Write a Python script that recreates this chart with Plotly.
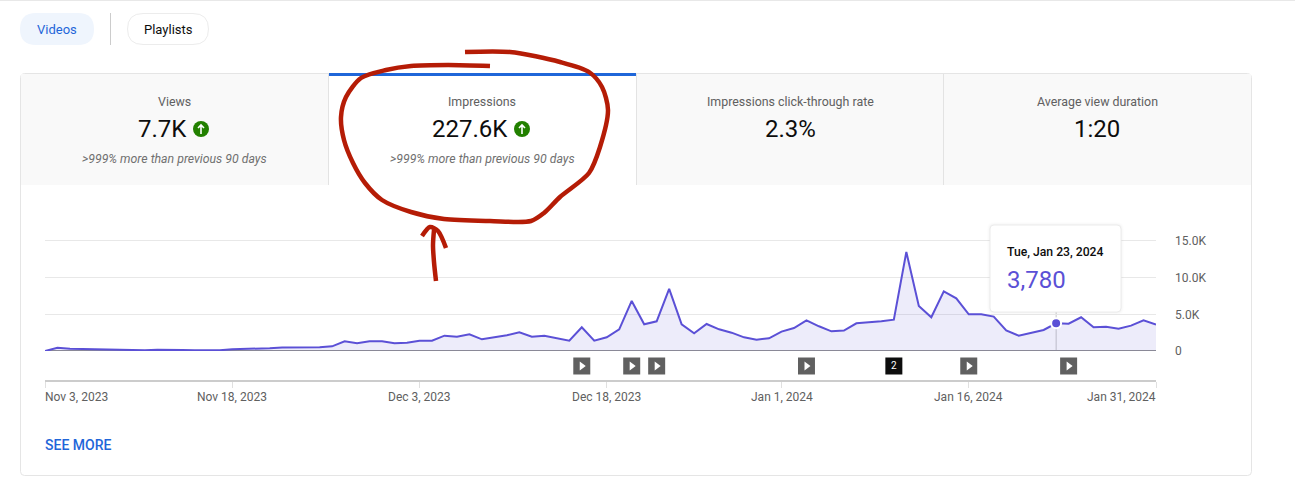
import pandas as pd
import plotly.graph_objects as go

W, H = 1295, 492

# chart data
start_date = '2023-11-03'
impressions = [
    0, 450, 320, 270, 280, 150, 100, 90, 100, 180,
    210, 140, 100, 90, 110, 230, 260, 350, 380, 480,
    500, 480, 520, 640, 1320, 1050, 1320, 1320, 1050, 1140,
    1410, 1410, 2090, 1950, 2270, 1590, 1865, 2140, 2550, 1950,
    2090, 1730, 1410, 3230, 1410, 1865, 2960, 6825, 3640, 4050,
    8460, 3640, 2410, 3685, 2960, 2500, 1865, 1550, 1730, 2640,
    3140, 4190, 3370, 2680, 2780, 3780, 3910, 4050, 4280, 13500,
    6140, 4600, 8140, 7190, 5000, 5000, 4690, 2820, 2090, 2460,
    2870, 3780, 3730, 4600, 3230, 3320, 3050, 3460, 4190, 3600,
]
dates = pd.date_range(start_date, periods=len(impressions), freq='D')

y_ticks = [0, 5000, 10000, 15000]
y_labels = ['0', '5.0K', '10.0K', '15.0K']
x_ticks = ['2023-11-03', '2023-11-18', '2023-12-03', '2023-12-18', '2024-01-01', '2024-01-16', '2024-01-31']
x_labels = ['Nov 3, 2023', 'Nov 18, 2023', 'Dec 3, 2023', 'Dec 18, 2023', 'Jan 1, 2024', 'Jan 16, 2024', 'Jan 31, 2024']

video_dates = ['2023-12-16', '2023-12-20', '2023-12-22', '2024-01-03', '2024-01-16', '2024-01-24']
multi_video_dates = ['2024-01-10']
multi_video_labels = ['2']

hover_date = '2024-01-23'
hover_value = 3780

tab_titles = ['Views', 'Impressions', 'Impressions click-through rate', 'Average view duration']
tab_values = ['7.7K', '227.6K', '2.3%', '1:20']
tab_notes = ['>999% more than previous 90 days', '>999% more than previous 90 days', '', '']

BLUE = '#1f66d9'
PURPLE = '#5b50d6'
RED = '#b51c06'
GREY_TEXT = '#606060'
FONT = 'Roboto'


# pixel position in the browser window -> paper coordinates
def px(x):
    return x / W


def py(y):
    return 1 - y / H


def rounded(x0, y0, x1, y1, r):
    # rounded box path in paper coordinates
    return (f'M {px(x0 + r)} {py(y0)} L {px(x1 - r)} {py(y0)} Q {px(x1)} {py(y0)} {px(x1)} {py(y0 + r)} '
            f'L {px(x1)} {py(y1 - r)} Q {px(x1)} {py(y1)} {px(x1 - r)} {py(y1)} '
            f'L {px(x0 + r)} {py(y1)} Q {px(x0)} {py(y1)} {px(x0)} {py(y1 - r)} '
            f'L {px(x0)} {py(y0 + r)} Q {px(x0)} {py(y0)} {px(x0 + r)} {py(y0)} Z')


fig = go.Figure()

## main line
fig.add_trace(go.Scatter(x=dates, y=impressions, mode='lines', fill='tozeroy',
                         fillcolor='rgba(91,80,214,0.11)', line=dict(color=PURPLE, width=2),
                         hoverinfo='skip', showlegend=False))

## hovered point
fig.add_trace(go.Scatter(x=[hover_date], y=[hover_value], mode='markers',
                         marker=dict(color=PURPLE, size=10, line=dict(color='white', width=2)),
                         hoverinfo='skip', showlegend=False))

## video icons under the line, on their own thin y axis
fig.add_trace(go.Scatter(x=video_dates, y=[0.5] * len(video_dates), yaxis='y3', mode='markers',
                         marker=dict(symbol='square', size=17, color='#606060'),
                         hoverinfo='skip', showlegend=False))
fig.add_trace(go.Scatter(x=video_dates, y=[0.5] * len(video_dates), yaxis='y3', mode='markers',
                         marker=dict(symbol='triangle-right', size=8, color='white'),
                         hoverinfo='skip', showlegend=False))
fig.add_trace(go.Scatter(x=multi_video_dates, y=[0.5] * len(multi_video_dates), yaxis='y3', mode='markers+text',
                         marker=dict(symbol='square', size=17, color='#0d0d0d'),
                         text=multi_video_labels, textposition='middle center',
                         textfont=dict(family=FONT, size=10, color='white'),
                         hoverinfo='skip', showlegend=False))

## hand drawn red circle and arrow, on a full page axis in pixels
loop_x = [490, 448, 411, 386, 361, 346, 341, 344, 353, 365, 382, 411, 444, 490, 531, 544, 560, 589, 600, 608, 602, 589, 560, 510, 465]
loop_y = [66, 65, 66, 70, 78, 97, 117, 140, 163, 183, 200, 212, 219, 221, 221, 213, 197, 173, 147, 110, 87, 72, 62, 52, 52]
stem_x = [436, 434, 433, 434]
stem_y = [281, 262, 245, 230]
head_x = [422, 430, 438, 446]
head_y = [236, 227, 231, 248]
for sx, sy in [(loop_x, loop_y), (stem_x, stem_y), (head_x, head_y)]:
    fig.add_trace(go.Scatter(x=sx, y=sy, xaxis='x2', yaxis='y2', mode='lines',
                             line=dict(color=RED, width=4.5, shape='spline', smoothing=0.8),
                             hoverinfo='skip', showlegend=False))

shapes = []
# top strip and pills
shapes.append(dict(type='line', xref='paper', yref='paper', x0=0, x1=1, y0=py(0.5), y1=py(0.5),
                   line=dict(color='#e8e8e8', width=1), layer='below'))
shapes.append(dict(type='path', xref='paper', yref='paper', path=rounded(20, 13, 94, 45, 16),
                   fillcolor='#eff5fd', line=dict(width=0), layer='below'))
shapes.append(dict(type='line', xref='paper', yref='paper', x0=px(110.5), x1=px(110.5), y0=py(13), y1=py(45),
                   line=dict(color='#cccccc', width=1), layer='below'))
shapes.append(dict(type='path', xref='paper', yref='paper', path=rounded(127.5, 13.5, 208.5, 44.5, 15.5),
                   fillcolor='white', line=dict(color='#ececec', width=1), layer='below'))
# card and tab header
shapes.append(dict(type='path', xref='paper', yref='paper', path=rounded(20.5, 73.5, 1251.5, 475.5, 4),
                   fillcolor='white', line=dict(color='#e5e5e5', width=1), layer='below'))
for x0, x1 in [(21, 329), (637, 1251)]:
    shapes.append(dict(type='rect', xref='paper', yref='paper', x0=px(x0), x1=px(x1), y0=py(74), y1=py(185),
                       fillcolor='#f9f9f9', line=dict(width=0), layer='below'))
for x in [328.5, 636.5, 943.5]:
    shapes.append(dict(type='line', xref='paper', yref='paper', x0=px(x), x1=px(x), y0=py(74), y1=py(185),
                       line=dict(color='#e3e3e3', width=1), layer='below'))
shapes.append(dict(type='rect', xref='paper', yref='paper', x0=px(329), x1=px(636), y0=py(73), y1=py(76),
                   fillcolor=BLUE, line=dict(width=0), layer='below'))
# green up badges
for cx in [201, 522]:
    shapes.append(dict(type='circle', xref='paper', yref='paper', x0=px(cx - 8), x1=px(cx + 8), y0=py(121), y1=py(137),
                       fillcolor='#228000', line=dict(width=0), layer='above'))
    shapes.append(dict(type='path', xref='paper', yref='paper',
                       path=f'M {px(cx)} {py(134)} L {px(cx)} {py(125)} M {px(cx - 3)} {py(128)} L {px(cx)} {py(125)} L {px(cx + 3)} {py(128)}',
                       line=dict(color='white', width=1.6), layer='above'))
# hover line from the tooltip to the baseline
shapes.append(dict(type='line', xref='x', yref='y', x0=hover_date, x1=hover_date, y0=0, y1=5400,
                   line=dict(color='#c8c8c8', width=1), layer='below'))
# tooltip with a soft shadow
for grow, alpha in [(3, 0.008), (2, 0.012), (1, 0.018)]:
    shapes.append(dict(type='path', xref='paper', yref='paper',
                       path=rounded(990 - grow, 225 - grow, 1121 + grow, 312 + grow, 4 + grow),
                       fillcolor=f'rgba(0,0,0,{alpha})', line=dict(width=0), layer='above'))
shapes.append(dict(type='path', xref='paper', yref='paper', path=rounded(990, 225, 1121, 312, 4),
                   fillcolor='white', line=dict(color='#ececec', width=1), layer='above'))

annotations = []


def label(x, y, text, size, color, anchor='center', xref='paper', **font):
    annotations.append(dict(x=x, y=py(y), xref=xref, yref='paper', text=text, showarrow=False,
                            xanchor=anchor, yanchor='middle', borderpad=0, borderwidth=0,
                            font=dict(family=FONT, size=size, color=color, **font)))


label(px(57), 29, 'Videos', 13, BLUE, anchor='center')
label(px(168), 29, 'Playlists', 13, '#0d0d0d')

title_x = [174, 482, 790, 1097]
value_x = [162, 470, 790, 1097]
for tx, vx, title, value, note in zip(title_x, value_x, tab_titles, tab_values, tab_notes):
    label(px(tx), 102, title, 12.4, GREY_TEXT)
    label(px(vx), 129, value, 24, '#0d0d0d')
    if note:
        label(px(tx), 159, f'<i>{note}</i>', 12.3, '#707070')

for i, (tick, text) in enumerate(zip(x_ticks, x_labels)):
    anchor = 'left' if i == 0 else 'right' if i == len(x_ticks) - 1 else 'center'
    label(tick, 397, text, 12, GREY_TEXT, anchor=anchor, xref='x')

label(px(45), 445, 'SEE MORE', 14, BLUE, anchor='left', weight=500)

# tooltip text comes from the hovered point
tip_date = pd.Timestamp(hover_date)
label(px(1007), 252, f'{tip_date:%a, %b} {tip_date.day}, {tip_date.year}', 12.2, '#0d0d0d', anchor='left', weight=500)
label(px(1007), 280, f'{hover_value:,}', 24, PURPLE, anchor='left')

# y range runs a little past 15K, plotly drops a gridline within 1px of the edge
y_top = 15400
y_top_px = 351 - 110 * y_top / 15000

fig.update_layout(
    template='none',
    width=W, height=H, autosize=False,
    margin=dict(l=0, r=0, t=0, b=0, pad=0),
    paper_bgcolor='white', plot_bgcolor='rgba(0,0,0,0)',
    font=dict(family=FONT),
    shapes=shapes, annotations=annotations, showlegend=False,
    xaxis=dict(type='date', range=[x_ticks[0], x_ticks[-1]], automargin=False,
               domain=[px(45), px(1156)], anchor='free', position=py(381),
               tickvals=x_ticks, showticklabels=False, showgrid=False, zeroline=False,
               showline=True, linecolor='#cccccc', linewidth=2,
               ticks='outside', ticklen=6, tickwidth=1, tickcolor='#e0e0e0'),
    yaxis=dict(range=[0, y_top], domain=[py(351), py(y_top_px)], side='right', anchor='x', automargin=False,
               tickvals=y_ticks, ticktext=y_labels, ticklabelstandoff=18,
               tickfont=dict(family=FONT, size=12, color=GREY_TEXT),
               showgrid=True, gridcolor='#e8e8e8', gridwidth=1,
               zeroline=True, zerolinecolor='#909090', zerolinewidth=1, showline=False, ticks=''),
    xaxis2=dict(domain=[0, 1], range=[0, W], visible=False, anchor='y2', fixedrange=True, automargin=False),
    yaxis2=dict(domain=[0, 1], range=[H, 0], visible=False, anchor='x2', fixedrange=True, automargin=False),
    yaxis3=dict(domain=[py(375), py(357)], range=[0, 1], visible=False, anchor='x', fixedrange=True, automargin=False),
)

# the default page has an 8px body margin, the reference has none
fig.write_html("out.html", config=dict(displayModeBar=False),
               post_script="document.body.style.margin='0';")
